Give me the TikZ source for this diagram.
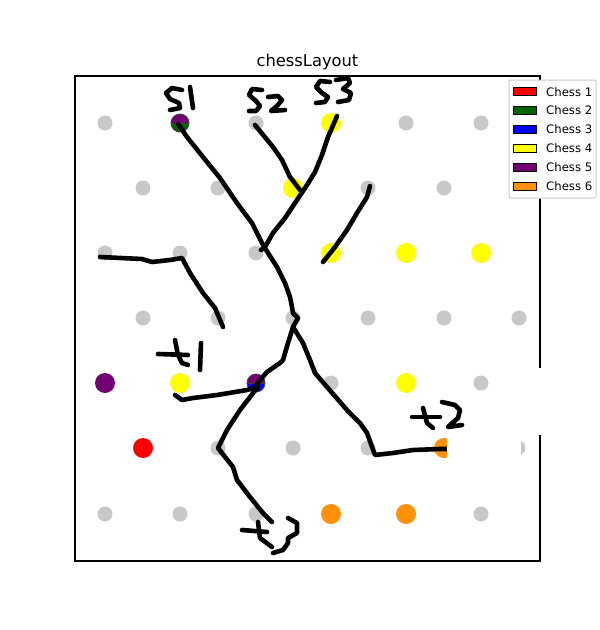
\documentclass[tikz,border=0pt]{standalone}
\usepackage{fontspec}
\setmainfont{DejaVu Sans}
\definecolor{dotgray}{RGB}{200,200,200}
\definecolor{chessred}{RGB}{255,0,0}
\definecolor{chessgreen}{RGB}{0,100,0}
\definecolor{chessblue}{RGB}{0,0,255}
\definecolor{chessyellow}{RGB}{255,255,0}
\definecolor{chesspurple}{RGB}{115,0,115}
\definecolor{chessorange}{RGB}{255,145,10}
\definecolor{legborder}{RGB}{204,204,204}
\tikzset{
  graydot/.style={fill=dotgray},
  pen/.style={line width=4.6pt, line cap=round, line join=round, black},
  frameline/.style={line width=1.1pt, black},
  swatch/.style={line width=0.8pt, draw=black},
  legtext/.style={anchor=west, inner sep=0pt, font=\fontsize{11.7}{14}\selectfont},
  halfedge/.style={draw=black!75, line width=0.8pt}
}
\newcommand{\hdot}[3]{%
  \begin{scope}[shift={#1}]
    \fill[#2] (-9,0) arc[start angle=180, end angle=360, radius=9] -- cycle;
    \fill[#3] (-9,0) arc[start angle=180, end angle=0, radius=9] -- cycle;
    \draw[halfedge] (0,0) circle (9);
    \draw[halfedge] (-9,0) -- (9,0);
  \end{scope}}
\begin{document}
\begin{tikzpicture}[x=1pt, y=-1pt]
\useasboundingbox (0,0) rectangle (600,630);
\fill[white] (0,0) rectangle (600,630);
% title
\node[anchor=base, inner sep=0pt, font=\fontsize{16.3}{19}\selectfont] (title) at (307.5,66) {chessLayout};
% axes frame
\draw[frameline] (75,76) rectangle (540,561);
% gray grid dots
\foreach \x/\y in {105/123,256/123,406/123,481/123,
                   143/188,218/188,368/188,444/188,519/188,
                   105/253,180/253,256/253,
                   143/318,218/318,293/318,368/318,444/318,519/318,
                   331/383,481/383,
                   218/448,293/448,368/448,518/448,
                   105/514,180/514,256/514,481/514}
  \fill[graydot] (\x,\y) circle (7.5);
% coloured dots
\foreach \x/\y in {331/123,293/188,331/253,406/253,481/253,180/383,406/383}
  \fill[chessyellow] (\x,\y) circle (10);
\fill[chesspurple] (105,383) circle (10);
\fill[chessred] (143,448) circle (10);
\foreach \x/\y in {444/448,331/514,406/514}
  \fill[chessorange] (\x,\y) circle (10);
\hdot{(180,123)}{chesspurple}{chessgreen}
\hdot{(256,383)}{chesspurple}{chessblue}
% hand-drawn strokes
\draw[pen] (178,124) -- (187,137) -- (207,162) -- (220,178) -- (237,203) -- (252,223) -- (262,243) -- (268,253) -- (277,267) -- (285,283) -- (290,297) -- (292,307) -- (293,313) -- (298,318) -- (293,327);
\draw[pen] (293,327) -- (303,343) -- (310,360) -- (315,373) -- (327,387) -- (347,410) -- (360,423) -- (367,433) -- (375,455) -- (393,453) -- (413,450) -- (440,449) -- (452,449);
\draw[pen] (293,327) -- (288,343) -- (283,360) -- (280,363) -- (267,372) -- (260,380) -- (255,387);
\draw[pen] (175,395) -- (182,400) -- (193,398) -- (217,395) -- (247,390) -- (257,387);
\draw[pen] (257,388) -- (240,410) -- (227,430) -- (218,448) -- (233,467) -- (237,480) -- (250,497) -- (263,513) -- (272,522);
\draw[pen] (255,125) -- (273,147) -- (282,160) -- (290,177) -- (300,190);
\draw[pen] (337,116) -- (328,137) -- (322,155) -- (315,172) -- (307,185) -- (297,200) -- (285,218) -- (273,233) -- (265,247) -- (261,250);
\draw[pen] (100,257) -- (142,259) -- (152,262) -- (170,260) -- (182,258) -- (190,273) -- (203,293) -- (215,308) -- (223,327);
\draw[pen] (370,186) -- (367,197) -- (357,213) -- (347,230) -- (335,247) -- (323,262);
% handwritten labels
\draw[pen] (182,90) -- (172,88) -- (166,93) -- (170,99) -- (179,103) -- (180,108) -- (170,110);
\draw[pen] (190,87) -- (193,108);
\draw[pen] (262,90) -- (252,89) -- (249,95) -- (256,101) -- (260,106) -- (256,111) -- (249,111);
\draw[pen] (268,97) -- (278,96) -- (282,100) -- (277,106) -- (271,111) -- (285,110);
\draw[pen] (330,82) -- (320,81) -- (316,87) -- (322,93) -- (328,97) -- (325,102) -- (316,103);
\draw[pen] (336,80) -- (348,78) -- (350,83) -- (343,89) -- (351,93) -- (349,100) -- (338,102);
\draw[pen] (158,354) -- (188,355);
\draw[pen] (175,340) -- (178,355) -- (182,363) -- (188,365);
\draw[pen] (201,343) -- (200,370);
\draw[pen] (412,417) -- (440,417);
\draw[pen] (423,408) -- (427,423) -- (433,428);
\draw[pen] (442,402) -- (455,405) -- (460,410) -- (458,418) -- (450,425) -- (448,427) -- (462,425);
\draw[pen] (242,530) -- (267,532);
\draw[pen] (258,522) -- (260,538) -- (272,547);
\draw[pen] (288,518) -- (297,523) -- (297,533) -- (288,538) -- (288,543) -- (283,550) -- (273,553);
% white patches
\fill[white] (507,368) rectangle (586,435);
\fill[white] (447,435) rectangle (521,462);
% legend
\draw[legborder, line width=1pt, fill=white, rounded corners=2pt] (509,80) rectangle (596,198);
\foreach \c/\t [count=\i from 0] in {chessred/Chess 1,chessgreen/Chess 2,chessblue/Chess 3,chessyellow/Chess 4,chesspurple/Chess 5,chessorange/Chess 6}{
  \draw[swatch, fill=\c] (513,91.7+18.9*\i-4) rectangle (536,91.7+18.9*\i+4);
  \node[legtext] (leg\i) at (546,91.7+18.9*\i) {\t};
}
\end{tikzpicture}
\end{document}
